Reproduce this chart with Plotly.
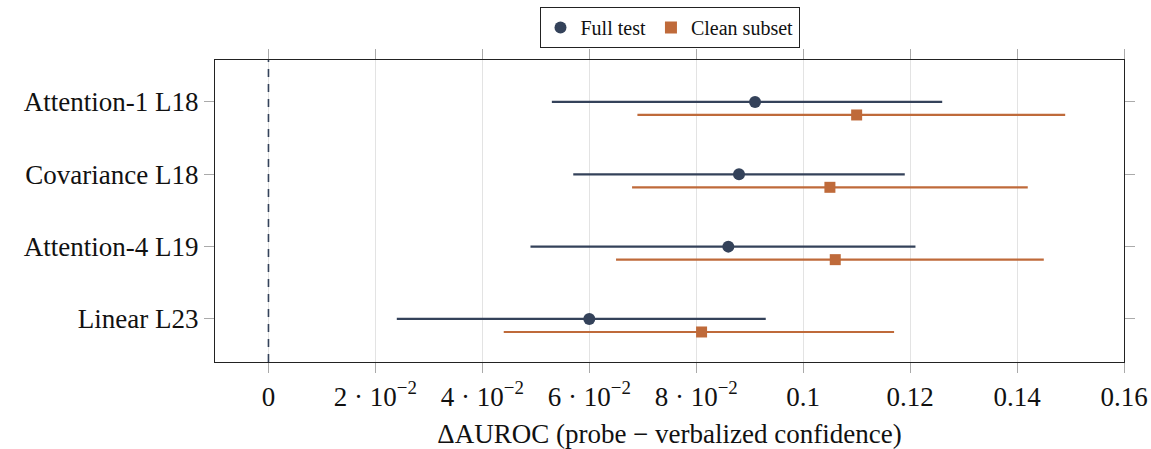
import plotly.graph_objects as go

categories = ["Attention-1 L18", "Covariance L18", "Attention-4 L19", "Linear L23"]
cat_pos = [3, 2, 1, 0]

full_mean = [0.091, 0.088, 0.086, 0.060]
full_lo = [0.053, 0.057, 0.049, 0.024]
full_hi = [0.126, 0.119, 0.121, 0.093]

clean_mean = [0.110, 0.105, 0.106, 0.081]
clean_lo = [0.069, 0.068, 0.065, 0.044]
clean_hi = [0.149, 0.142, 0.145, 0.117]

xtick_vals = [0, 0.02, 0.04, 0.06, 0.08, 0.10, 0.12, 0.14, 0.16]
xtick_text = ["0", "2 · 10<sup>−2</sup>", "4 · 10<sup>−2</sup>", "6 · 10<sup>−2</sup>",
              "8 · 10<sup>−2</sup>", "0.1", "0.12", "0.14", "0.16"]

FULL_C = "#34425a"
CLEAN_C = "#bf6a3a"
offset = 0.18
FONT = "Liberation Serif"

fig = go.Figure()

fig.add_shape(type="line", x0=0, x1=0, y0=0, y1=1, xref="x", yref="paper",
              line=dict(color=FULL_C, width=1.6, dash="8px,7px"), layer="above")

fig.add_trace(go.Scatter(
    x=full_mean, y=cat_pos, mode="markers", name="Full test",
    marker=dict(symbol="circle", size=12, color=FULL_C),
    error_x=dict(type="data", symmetric=False,
                 array=[h - m for h, m in zip(full_hi, full_mean)],
                 arrayminus=[m - l for m, l in zip(full_mean, full_lo)],
                 color=FULL_C, thickness=2.2, width=0),
))
fig.add_trace(go.Scatter(
    x=clean_mean, y=[p - offset for p in cat_pos], mode="markers", name="Clean subset",
    marker=dict(symbol="square", size=11, color=CLEAN_C),
    error_x=dict(type="data", symmetric=False,
                 array=[h - m for h, m in zip(clean_hi, clean_mean)],
                 arrayminus=[m - l for m, l in zip(clean_mean, clean_lo)],
                 color=CLEAN_C, thickness=2.2, width=0),
))

fig.update_layout(
    width=1151, height=449,
    margin=dict(l=215, r=27, t=60, b=87, autoexpand=False),
    plot_bgcolor="white", paper_bgcolor="white",
    font=dict(family=FONT, color="#111111"),
    showlegend=True,
    legend=dict(orientation="h", x=0.5, xanchor="center", y=1.04, yanchor="bottom",
                yref="paper", bordercolor="#222222", borderwidth=1,
                font=dict(size=20, family=FONT), itemwidth=30, tracegroupgap=0,
                itemsizing="constant"),
)
fig.update_xaxes(
    range=[-0.01, 0.16], tickvals=xtick_vals, ticktext=xtick_text,
    showgrid=True, gridcolor="#e3e3e3", gridwidth=1, zeroline=False,
    showline=True, linecolor="#222222", linewidth=1.2, mirror="ticks",
    ticks="outside", ticklen=10, tickcolor="#aaaaaa", tickwidth=1.2,
    tickfont=dict(size=27, family=FONT), automargin=False,
    title=dict(text="ΔAUROC (probe − verbalized confidence)", font=dict(size=27, family=FONT), standoff=20),
)
fig.update_yaxes(
    range=[-0.595, 3.58], tickvals=cat_pos, ticktext=categories,
    showgrid=False, zeroline=False,
    showline=True, linecolor="#222222", linewidth=1.2, mirror="ticks",
    ticks="outside", ticklen=10, tickcolor="#aaaaaa", tickwidth=1.2,
    tickfont=dict(size=27, family=FONT), automargin=False,
)

fig.write_html("out.html")
